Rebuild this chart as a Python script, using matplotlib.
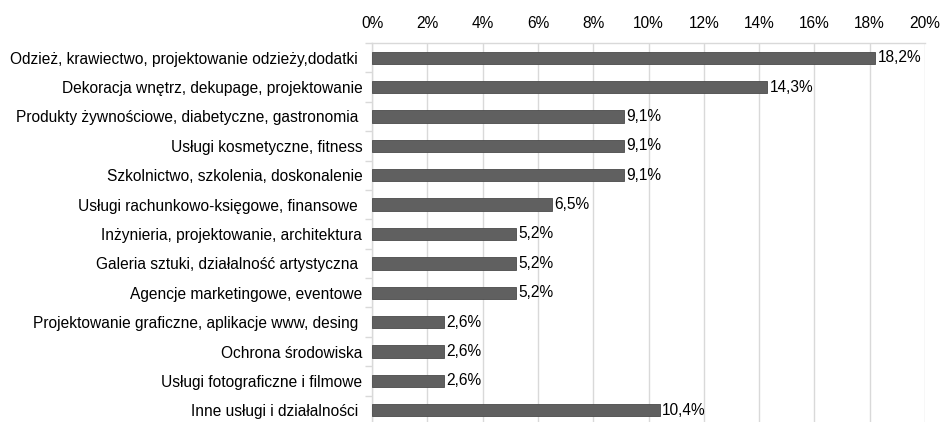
import matplotlib
matplotlib.use("Agg")
import matplotlib.pyplot as plt
from matplotlib.ticker import FixedLocator

plt.rcParams["font.family"] = ["Liberation Sans", "DejaVu Sans"]

categories = [
    "Odzież, krawiectwo, projektowanie odzieży,dodatki ",
    "Dekoracja wnętrz, dekupage, projektowanie",
    "Produkty żywnościowe, diabetyczne, gastronomia ",
    "Usługi kosmetyczne, fitness",
    "Szkolnictwo, szkolenia, doskonalenie",
    "Usługi rachunkowo-księgowe, finansowe ",
    "Inżynieria, projektowanie, architektura",
    "Galeria sztuki, działalność artystyczna ",
    "Agencje marketingowe, eventowe",
    "Projektowanie graficzne, aplikacje www, desing ",
    "Ochrona środowiska",
    "Usługi fotograficzne i filmowe",
    "Inne usługi i działalności ",
]
values = [18.2, 14.3, 9.1, 9.1, 9.1, 6.5, 5.2, 5.2, 5.2, 2.6, 2.6, 2.6, 10.4]
xticks = [0, 2, 4, 6, 8, 10, 12, 14, 16, 18, 20]

BAR = "#606060"
GRID = "#d9d9d9"
INK = "#000000"
FS = 11.2

fig = plt.figure(figsize=(9.42, 4.22), dpi=100)
ax = fig.add_axes([372 / 942, -3 / 422, 553 / 942, 382 / 422])

pos = list(range(len(categories)))
ax.barh(pos, values, height=0.42, color=BAR, edgecolor="#4a4a4a", linewidth=0.6, zorder=3)
for y, v in zip(pos, values):
    ax.text(v + 0.1, y, f"{v:.1f}%".replace(".", ","), va="center", ha="left",
            fontsize=FS, color=INK)

ax.set_xlim(0, 20)
ax.set_ylim(len(categories) - 0.5, -0.5)
ax.xaxis.tick_top()
ax.set_xticks(xticks)
ax.set_xticklabels([f"{t}%" for t in xticks], fontsize=FS, color=INK)
ax.tick_params(axis="x", length=0, pad=9)
ax.set_yticks(pos)
ax.set_yticklabels(categories, fontsize=FS, color=INK)
ax.tick_params(axis="y", which="major", length=0, pad=7)
ax.yaxis.set_minor_locator(FixedLocator([p + 0.5 for p in pos[:-1]] + [-0.5]))
ax.tick_params(axis="y", which="minor", length=5, color=GRID, width=1)

ax.grid(axis="x", color=GRID, linewidth=1, zorder=0)
for s in ("bottom", "right"):
    ax.spines[s].set_visible(False)
for s in ("top", "left"):
    ax.spines[s].set_color(GRID)
    ax.spines[s].set_linewidth(1)

fig.savefig("out.png", dpi=100, facecolor="white")
